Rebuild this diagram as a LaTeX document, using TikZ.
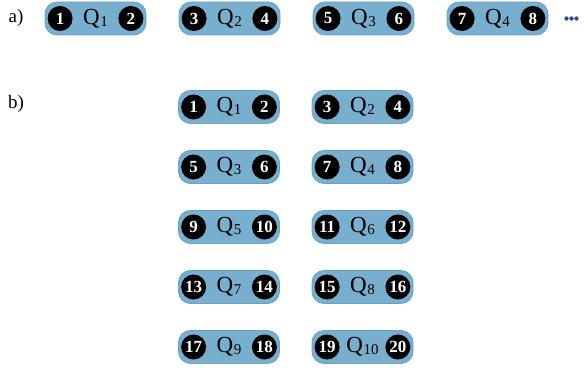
\documentclass[tikz,border=0pt]{standalone}
\usepackage{fontspec}
\setmainfont{Liberation Serif}
\definecolor{boxfill}{RGB}{120,174,206}
\definecolor{boxedge}{RGB}{105,160,195}
\definecolor{dotblue}{RGB}{46,74,135}
\tikzset{
  qbox/.style={draw=boxedge, line width=0.8pt, fill=boxfill, rounded corners=12pt,
    minimum width=101pt, minimum height=33pt, inner sep=0pt},
  numdot/.style={circle, fill=black, minimum size=25pt, inner sep=0pt,
    text=white, font=\fontsize{17}{17}\selectfont\bfseries},
  qlabel/.style={inner sep=0pt, font=\fontsize{23}{23}\selectfont},
  partlabel/.style={inner sep=0pt, font=\fontsize{19}{19}\selectfont}
}
\newcommand{\qunit}[6]{%
  \node[qbox] (#1) at (#2,#3) {};
  \node[numdot] (#1l) at ([xshift=15.5pt]#1.west) {#4};
  \node[numdot] (#1r) at ([xshift=-15.5pt]#1.east) {#6};
  \node[qlabel] (#1q) at (#1.center) {Q\kern0.5pt\raisebox{-2pt}{\fontsize{15}{15}\selectfont #5}};
}
\begin{document}
\begin{tikzpicture}[x=1pt,y=-1pt]
\useasboundingbox (0,0) rectangle (584,369);
\node[partlabel] (la) at (16,18) {a)};
\node[partlabel] (lb) at (16,104) {b)};
\qunit{a1}{95.5}{18.5}{1}{1}{2}
\qunit{a2}{229.5}{18.5}{3}{2}{4}
\qunit{a3}{363.5}{18.5}{5}{3}{6}
\qunit{a4}{497.5}{18.5}{7}{4}{8}
\foreach \i/\xx in {1/566.5,2/571.5,3/576.5}
  \fill[dotblue] (\xx,18.5) circle (2.2pt) coordinate (dot\i);
\qunit{b1}{229}{107}{1}{1}{2}
\qunit{b2}{362.5}{107}{3}{2}{4}
\qunit{b3}{229}{167}{5}{3}{6}
\qunit{b4}{362.5}{167}{7}{4}{8}
\qunit{b5}{229}{227}{9}{5}{10}
\qunit{b6}{362.5}{227}{11}{6}{12}
\qunit{b7}{229}{287}{13}{7}{14}
\qunit{b8}{362.5}{287}{15}{8}{16}
\qunit{b9}{229}{347}{17}{9}{18}
\qunit{b10}{362.5}{347}{19}{10}{20}
\end{tikzpicture}
\end{document}
